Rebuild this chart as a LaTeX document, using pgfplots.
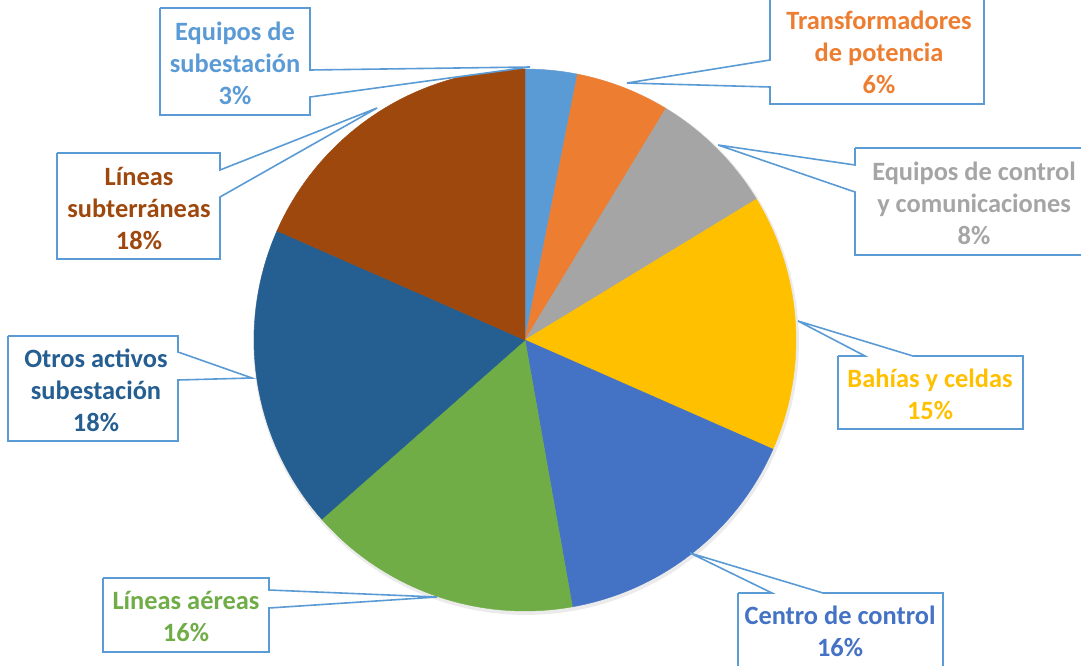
\documentclass[border=0pt]{standalone}
\usepackage{fontspec}
\setmainfont{Carlito}
\usepackage{pgfplots}
\pgfplotsset{compat=1.18}

\definecolor{cA}{HTML}{5B9BD5}
\definecolor{cB}{HTML}{ED7D31}
\definecolor{cC}{HTML}{A5A5A5}
\definecolor{cD}{HTML}{FFC000}
\definecolor{cE}{HTML}{4472C4}
\definecolor{cF}{HTML}{70AD47}
\definecolor{cG}{HTML}{255E91}
\definecolor{cH}{HTML}{9E480E}

% cumulative share (%) clockwise from the top:
% 3.1, 5.6, 7.6, 15.3, 15.6, 16.3, 18.1, 18.4
\begin{document}
\begin{tikzpicture}[
  lbl/.style={align=center, font=\fontsize{13.2}{16}\selectfont\bfseries},
]
\begin{axis}[
  scale only axis,
  width=540.5pt, height=332.5pt,
  xmin=0, xmax=1081, ymin=0, ymax=665,
  y dir=reverse,
  hide axis,
  variable=\t,
  samples=40,
  callout/.style={draw=cA, fill=white, line width=0.8pt, mark=none},
]
% soft shadow
\addplot[fill=black!8, draw=none, domain=0:100, samples=120]
  ({526+273*sin(3.6*\t)}, {342-273*cos(3.6*\t)}) -- cycle;
% slices
\addplot[fill=cA, draw=cA, line width=0.2pt, domain=0:3.1]
  ({525+271*sin(3.6*\t)}, {340-271*cos(3.6*\t)}) -- (axis cs:525,340) -- cycle;
\addplot[fill=cB, draw=cB, line width=0.2pt, domain=3.1:8.7]
  ({525+271*sin(3.6*\t)}, {340-271*cos(3.6*\t)}) -- (axis cs:525,340) -- cycle;
\addplot[fill=cC, draw=cC, line width=0.2pt, domain=8.7:16.3]
  ({525+271*sin(3.6*\t)}, {340-271*cos(3.6*\t)}) -- (axis cs:525,340) -- cycle;
\addplot[fill=cD, draw=cD, line width=0.2pt, domain=16.3:31.6]
  ({525+271*sin(3.6*\t)}, {340-271*cos(3.6*\t)}) -- (axis cs:525,340) -- cycle;
\addplot[fill=cE, draw=cE, line width=0.2pt, domain=31.6:47.2]
  ({525+271*sin(3.6*\t)}, {340-271*cos(3.6*\t)}) -- (axis cs:525,340) -- cycle;
\addplot[fill=cF, draw=cF, line width=0.2pt, domain=47.2:63.5]
  ({525+271*sin(3.6*\t)}, {340-271*cos(3.6*\t)}) -- (axis cs:525,340) -- cycle;
\addplot[fill=cG, draw=cG, line width=0.2pt, domain=63.5:81.6]
  ({525+271*sin(3.6*\t)}, {340-271*cos(3.6*\t)}) -- (axis cs:525,340) -- cycle;
\addplot[fill=cH, draw=cH, line width=0.2pt, domain=81.6:100]
  ({525+271*sin(3.6*\t)}, {340-271*cos(3.6*\t)}) -- (axis cs:525,340) -- cycle;

% callout boxes
\addplot[callout] coordinates {(160,8) (310,8) (310,70) (530,67) (310,97) (310,115) (160,115) (160,8)};
\addplot[callout] coordinates {(770,-5) (984,-5) (984,104) (770,104) (770,87) (627,83) (770,60) (770,-5)};
\addplot[callout] coordinates {(57,153) (220,153) (220,170) (377,108) (220,197) (220,259) (57,259) (57,153)};
\addplot[callout] coordinates {(8,336) (178,336) (178,352) (252,378) (178,380) (178,441) (8,441) (8,336)};
\addplot[callout] coordinates {(855,148) (1090,148) (1090,255) (855,255) (855,192) (718,145) (855,165) (855,148)};
\addplot[callout] coordinates {(838,356) (865,356) (798,321) (913,356) (1023,356) (1023,429) (838,429) (838,356)};
\addplot[callout] coordinates {(103,578) (269,578) (269,590) (437,597) (269,608) (269,652) (103,652) (103,578)};
\addplot[callout] coordinates {(738,593) (772,593) (690,553) (823,593) (943,593) (943,675) (738,675) (738,593)};

% labels
\node[lbl, text=cA] at (axis cs:235,63) {Equipos de\\subestación\\3\%};
\node[lbl, text=cB] at (axis cs:879,52) {Transformadores\\de potencia\\6\%};
\node[lbl, text=cC] at (axis cs:974,203) {Equipos de control\\y comunicaciones\\8\%};
\node[lbl, text=cD] at (axis cs:930,394) {Bahías y celdas\\15\%};
\node[lbl, text=cE] at (axis cs:840,631) {Centro de control\\16\%};
\node[lbl, text=cF] at (axis cs:186,616) {Líneas aéreas\\16\%};
\node[lbl, text=cG] at (axis cs:96,390) {Otros activos\\subestación\\18\%};
\node[lbl, text=cH] at (axis cs:139,208) {Líneas\\subterráneas\\18\%};
\end{axis}
\pgfresetboundingbox
\useasboundingbox (current axis.south west) rectangle (current axis.north east);
\end{tikzpicture}
\end{document}
